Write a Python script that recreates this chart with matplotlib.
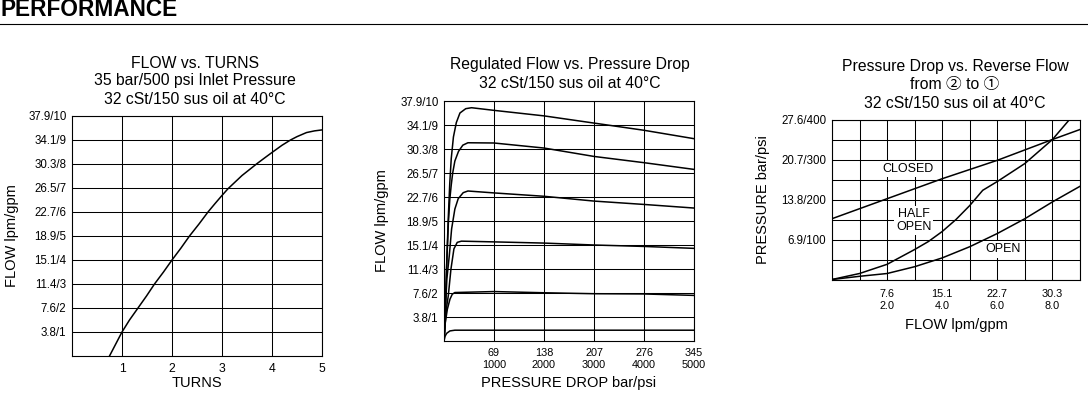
import matplotlib
matplotlib.use("Agg")
import matplotlib.pyplot as plt

plt.rcParams["font.family"] = ["Liberation Sans", "Noto Sans CJK JP", "DejaVu Sans"]

W, H = 1088, 393

# ---- FLOW vs. TURNS ----
turns = [0.75, 1.0, 1.15, 1.32, 1.49, 1.65, 1.83, 2.0, 2.18, 2.35, 2.54, 2.72,
         2.86, 3.0, 3.12, 3.4, 3.69, 3.85, 4.0, 4.2, 4.37, 4.5, 4.69, 4.85, 5.0]
turns_flow = [0.0, 1.0, 1.5, 2.0, 2.5, 3.0, 3.5, 4.0, 4.5, 5.0, 5.5, 6.0,
              6.35, 6.69, 6.97, 7.52, 8.0, 8.25, 8.48, 8.78, 9.0, 9.14, 9.31, 9.38, 9.42]
flow_ticks = [1, 2, 3, 4, 5, 6, 7, 8, 9, 10]
flow_labels = ["3.8/1", "7.6/2", "11.4/3", "15.1/4", "18.9/5", "22.7/6",
               "26.5/7", "30.3/8", "34.1/9", "37.9/10"]
turn_ticks = [1, 2, 3, 4, 5]

# ---- Regulated Flow vs. Pressure Drop (x in bar, y in gpm) ----
reg_x1 = [0, 2, 4, 6, 8, 10, 13, 17, 22, 30, 38, 69, 138, 207, 276, 345]
reg_y1 = [0, 1.5, 3.5, 5.2, 6.6, 7.6, 8.5, 9.1, 9.5, 9.68, 9.72, 9.61, 9.38, 9.08, 8.78, 8.43]
reg_x2 = [0, 2, 4, 6, 8, 10, 12, 15, 20, 26, 33, 69, 138, 207, 276, 345]
reg_y2 = [0, 1.5, 3.4, 4.9, 5.9, 6.5, 7.0, 7.5, 7.9, 8.16, 8.26, 8.25, 8.04, 7.69, 7.43, 7.15]
reg_x3 = [0, 2, 4, 7.3, 10.5, 15, 19.6, 26.5, 33, 69, 138, 207, 276, 345]
reg_y3 = [0, 1.4, 2.6, 3.56, 4.67, 5.5, 5.93, 6.18, 6.25, 6.17, 6.03, 5.83, 5.69, 5.54]
reg_x4 = [0, 2, 4, 5.9, 9.6, 13.7, 18.3, 24, 69, 138, 207, 276, 345]
reg_y4 = [0, 0.9, 1.5, 1.88, 3.0, 3.84, 4.11, 4.16, 4.13, 4.08, 4.0, 3.94, 3.86]
reg_x5 = [0, 1.8, 4.6, 8.2, 11.4, 15, 69, 138, 207, 276, 345]
reg_y5 = [0, 0.77, 1.32, 1.74, 1.95, 2.02, 2.06, 2.01, 1.97, 1.96, 1.9]
reg_x6 = [0, 1.5, 3.7, 8.2, 15, 345]
reg_y6 = [0, 0.2, 0.32, 0.42, 0.45, 0.45]
dp_ticks = [69, 138, 207, 276, 345]
dp_labels = ["69\n1000", "138\n2000", "207\n3000", "276\n4000", "345\n5000"]

# ---- Pressure Drop vs. Reverse Flow (x in gpm, y in psi) ----
closed_x = [0, 2, 4, 6, 8, 9]
closed_y = [152, 202, 252, 298, 350, 375]
half_x = [0, 1, 2, 3, 3.5, 4, 4.5, 5, 5.47, 6, 7, 8, 8.62]
half_y = [0, 15, 38, 75, 95, 120, 150, 185, 223, 245, 290, 350, 400]
open_x = [0, 1, 2, 3, 4, 5, 6, 7, 8, 9]
open_y = [0, 8, 15, 32, 54, 82, 115, 152, 194, 233]
rev_ticks = [2, 4, 6, 8]
rev_labels = ["7.6\n2.0", "15.1\n4.0", "22.7\n6.0", "30.3\n8.0"]
psi_ticks = [100, 200, 300, 400]
psi_labels = ["6.9/100", "13.8/200", "20.7/300", "27.6/400"]


def box(px_left, px_top, px_w, px_h):
    return [px_left / W, (H - px_top - px_h) / H, px_w / W, px_h / H]


def ftext(x, y, s, **kw):
    fig.text(x / W, 1 - y / H, s, **kw)


def style(ax):
    ax.tick_params(length=0, labelsize=8.3, colors="black", pad=4)
    for sp in ax.spines.values():
        sp.set_linewidth(0.8)
    ax.grid(True, which="both", color="black", linewidth=0.75)
    ax.set_axisbelow(True)


def labels(ax, xlab, ylab, xy, yx):
    ax.set_xlabel(xlab, fontsize=10.5)
    ax.set_ylabel(ylab, fontsize=10.5)
    ax.xaxis.set_label_coords(0.5, xy)
    ax.yaxis.set_label_coords(yx, 0.5)
    ax.xaxis.label.set_va("center")
    ax.yaxis.label.set_va("center")


TF = 11.3

fig = plt.figure(figsize=(W / 100, H / 100), dpi=100)

ftext(1, 10, "PERFORMANCE", fontsize=16.3, fontweight="bold", va="center", ha="left")
fig.add_artist(plt.Line2D([0, 1], [1 - 24 / H, 1 - 24 / H], color="black", linewidth=0.8))

# panel 1
ax1 = fig.add_axes(box(72, 116, 250, 240))
ax1.plot(turns, turns_flow, color="black", linewidth=1.1)
ax1.set_xlim(0, 5)
ax1.set_ylim(0, 10)
ax1.set_xticks(turn_ticks)
ax1.set_yticks(flow_ticks)
ax1.set_yticklabels(flow_labels)
style(ax1)
ax1.tick_params(axis="x", labelsize=8.8, pad=5)
labels(ax1, "TURNS", "FLOW lpm/gpm", (356 - 383) / 240, (12 - 72) / 250)
ftext(195, 63, "FLOW vs. TURNS", fontsize=TF, ha="center", va="center")
ftext(195, 81, "35 bar/500 psi Inlet Pressure", fontsize=TF, ha="center", va="center")
ftext(195, 99, "32 cSt/150 sus oil at 40°C", fontsize=TF, ha="center", va="center")

# panel 2
ax2 = fig.add_axes(box(444, 101, 250, 240))
for xs, ys in [(reg_x1, reg_y1), (reg_x2, reg_y2), (reg_x3, reg_y3),
               (reg_x4, reg_y4), (reg_x5, reg_y5), (reg_x6, reg_y6)]:
    ax2.plot(xs, ys, color="black", linewidth=1.1)
ax2.set_xlim(0, 345)
ax2.set_ylim(0, 10)
ax2.set_xticks(dp_ticks)
ax2.set_xticklabels(dp_labels)
ax2.set_yticks(flow_ticks)
ax2.set_yticklabels(flow_labels)
style(ax2)
ax2.tick_params(axis="x", labelsize=7.8, pad=5)
labels(ax2, "PRESSURE DROP bar/psi", "FLOW lpm/gpm", (341 - 383) / 240, (382 - 444) / 250)
ftext(570, 65, "Regulated Flow vs. Pressure Drop", fontsize=TF, ha="center", va="center")
ftext(570, 83, "32 cSt/150 sus oil at 40°C", fontsize=TF, ha="center", va="center")

# panel 3
ax3 = fig.add_axes(box(832, 119.5, 248, 160))
ax3.plot(closed_x, closed_y, color="black", linewidth=1.1)
ax3.plot(half_x, half_y, color="black", linewidth=1.1)
ax3.plot(open_x, open_y, color="black", linewidth=1.1)
ax3.set_xlim(0, 9)
ax3.set_ylim(0, 400)
ax3.set_xticks(rev_ticks)
ax3.set_xticklabels(rev_labels)
ax3.set_xticks(range(0, 10), minor=True)
ax3.set_yticks(psi_ticks)
ax3.set_yticklabels(psi_labels)
ax3.set_yticks(range(0, 401, 50), minor=True)
style(ax3)
ax3.tick_params(which="minor", length=0)
ax3.tick_params(axis="x", labelsize=7.8, pad=7)
labels(ax3, "FLOW lpm/gpm", "PRESSURE bar/psi", (279.5 - 325) / 160, (763 - 832) / 248)
bb = dict(facecolor="white", edgecolor="none", pad=1.5)
ax3.text(2.75, 277, "CLOSED", fontsize=9, ha="center", va="center", bbox=bb)
ax3.text(2.96, 147, "HALF\nOPEN", fontsize=9, ha="center", va="center",
         linespacing=1.05, bbox=bb)
ax3.text(6.2, 75, "OPEN", fontsize=9, ha="center", va="center", bbox=bb)
ftext(955, 67, "Pressure Drop vs. Reverse Flow", fontsize=TF, ha="center", va="center")
ftext(955, 85, "from ② to ①", fontsize=TF, ha="center", va="center")
ftext(955, 103, "32 cSt/150 sus oil at 40°C", fontsize=TF, ha="center", va="center")

fig.savefig("out.png", dpi=100)
